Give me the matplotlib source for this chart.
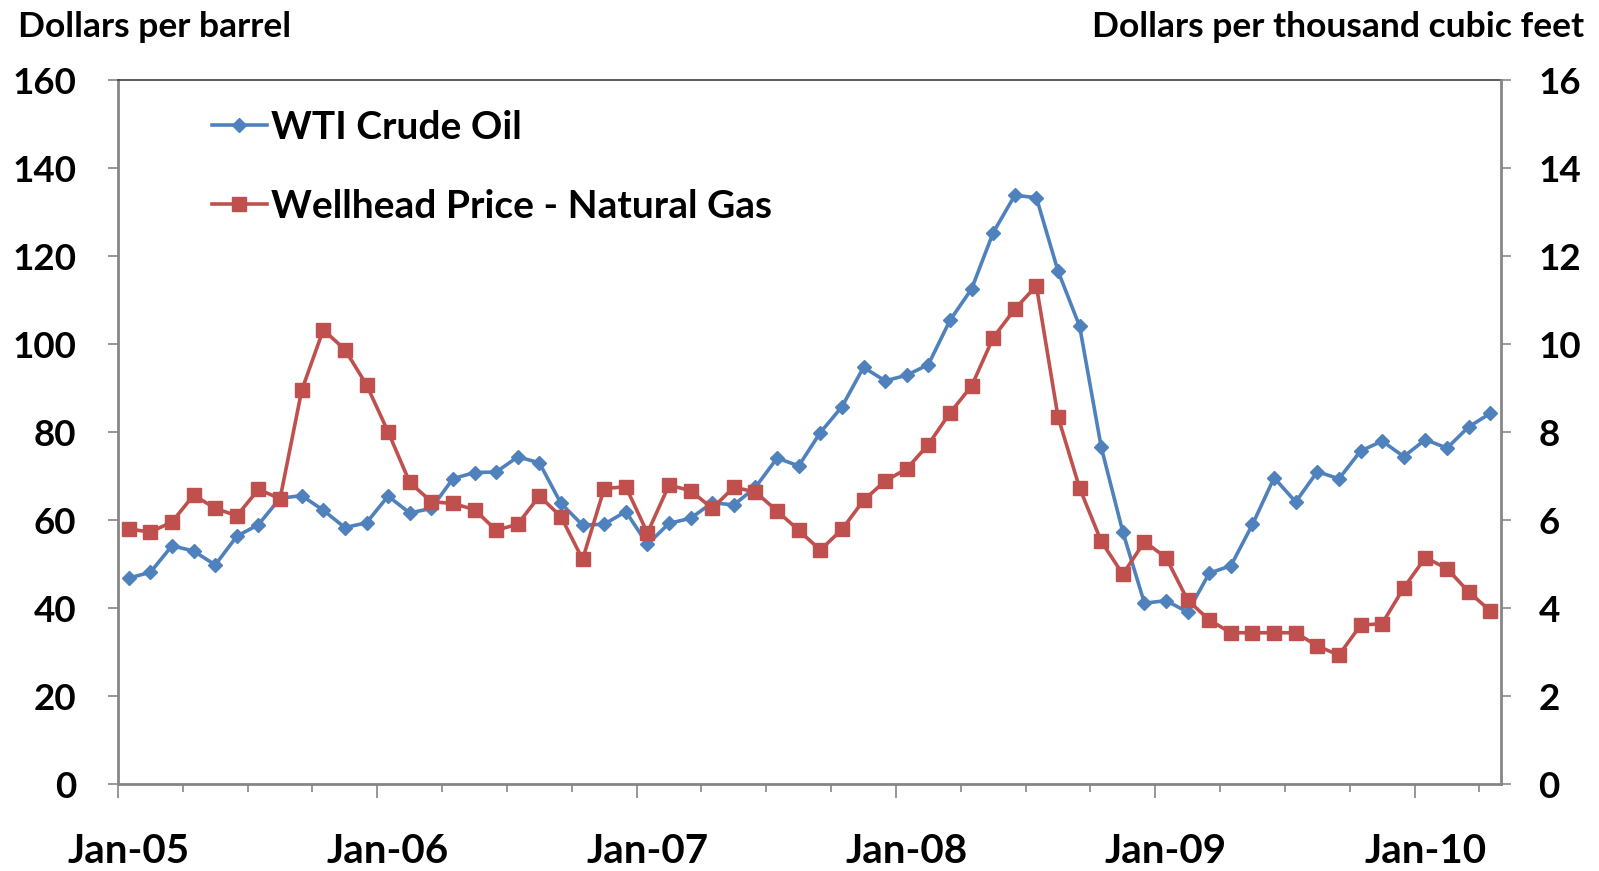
import matplotlib
matplotlib.use('Agg')
import matplotlib.pyplot as plt
import numpy as np

plt.rcParams['font.family'] = ['Lato', 'DejaVu Sans']
plt.rcParams['font.weight'] = 'bold'

# ---------------- data ----------------
years = ['05', '06', '07', '08', '09', '10']
month_names = ['Jan', 'Feb', 'Mar', 'Apr', 'May', 'Jun',
               'Jul', 'Aug', 'Sep', 'Oct', 'Nov', 'Dec']
months = [f'{m}-{y}' for y in years for m in month_names][:64]
year_labels = ['Jan-05', 'Jan-06', 'Jan-07', 'Jan-08', 'Jan-09', 'Jan-10']

wti = [46.84, 48.15, 54.19, 52.98, 49.83, 56.35, 59.00, 64.99, 65.59, 62.26, 58.32, 59.41,
       65.49, 61.63, 62.69, 69.44, 70.84, 70.95, 74.41, 73.04, 63.80, 58.89, 59.08, 61.96,
       54.51, 59.28, 60.44, 63.98, 63.46, 67.49, 74.12, 72.36, 79.92, 85.80, 94.77, 91.69,
       92.97, 95.39, 105.45, 112.58, 125.40, 133.88, 133.37, 116.67, 104.11, 76.61, 57.31, 41.12,
       41.71, 39.09, 47.94, 49.65, 59.03, 69.64, 64.15, 71.05, 69.41, 75.72, 77.99, 74.47,
       78.33, 76.39, 81.20, 84.29]

gas = [5.80, 5.73, 5.96, 6.57, 6.27, 6.10, 6.70, 6.49, 8.95, 10.33, 9.88, 9.08,
       8.01, 6.86, 6.42, 6.38, 6.24, 5.77, 5.91, 6.55, 6.08, 5.11, 6.72, 6.76,
       5.71, 6.80, 6.67, 6.27, 6.75, 6.64, 6.21, 5.77, 5.32, 5.79, 6.45, 6.89,
       7.17, 7.72, 8.44, 9.05, 10.15, 10.80, 11.33, 8.35, 6.73, 5.52, 4.77, 5.51,
       5.15, 4.18, 3.73, 3.44, 3.44, 3.44, 3.44, 3.14, 2.93, 3.61, 3.65, 4.46,
       5.15, 4.90, 4.37, 3.94]

left_ticks = [0, 20, 40, 60, 80, 100, 120, 140, 160]
right_ticks = [0, 2, 4, 6, 8, 10, 12, 14, 16]

blue = '#4F81BD'
red = '#C0504D'
axis_gray = '#868686'

# ---------------- figure ----------------
W, H = 1599, 871
fig = plt.figure(figsize=(W / 100, H / 100), dpi=100)
left, right, top, bottom = 118, 1501, 80.5, 784
ax = fig.add_axes([left / W, 1 - bottom / H, (right - left) / W, (bottom - top) / H])
ax2 = ax.twinx()

x = np.arange(len(months))
l1, = ax.plot(x, wti, color=blue, lw=2.6, marker='D', ms=7.5, mec=blue, mfc=blue,
              label='WTI Crude Oil', zorder=3)
l2, = ax2.plot(x, gas, color=red, lw=2.6, marker='s', ms=10, mec=red, mfc=red,
               label='Wellhead Price - Natural Gas', zorder=3)

ax.set_xlim(-0.5, len(months) - 0.5)
ax.set_ylim(0, 160)
ax2.set_ylim(0, 16)

# y axes
ax.set_yticks(left_ticks)
ax.set_yticklabels([str(v) for v in left_ticks])
ax2.set_yticks(right_ticks)
ax2.set_yticklabels([str(v) for v in right_ticks])
ax.tick_params(axis='y', direction='out', length=7, width=1.2, color=axis_gray,
               labelsize=26.5, pad=23)
ax2.tick_params(axis='y', direction='out', length=7, width=1.2, color=axis_gray,
                labelsize=26.5, pad=20)
for lab in ax.get_yticklabels() + ax2.get_yticklabels():
    lab.set_fontweight('bold')

# x axis: ticks at category boundaries every 3 months, labels at January centers
major_pos = np.arange(-0.5, len(months) - 0.5, 3)
ax.set_xticks(major_pos)
ax.set_xticklabels([])
ax.tick_params(axis='x', which='major', direction='out', length=6, width=1.2, color=axis_gray)
for t, pos in zip(ax.xaxis.get_major_ticks(), major_pos):
    if (pos + 0.5) % 12 == 0:
        t.tick1line.set_markersize(10)
ax.set_xticks([months.index(lbl) for lbl in year_labels], minor=True)
ax.set_xticklabels(year_labels, minor=True)
ax.tick_params(axis='x', which='minor', length=0, labelsize=29, pad=35)
for lab in ax.get_xticklabels(minor=True):
    lab.set_fontweight('bold')

# spines
for s in ['left', 'bottom']:
    ax.spines[s].set_color(axis_gray)
    ax.spines[s].set_linewidth(2)
ax.spines['top'].set_color('#404040')
ax.spines['top'].set_linewidth(1.2)
ax.spines['right'].set_visible(False)
for s in ['left', 'bottom', 'top']:
    ax2.spines[s].set_visible(False)
ax2.spines['right'].set_color(axis_gray)
ax2.spines['right'].set_linewidth(2)

# axis titles
fig.text(18 / W, 1 - 27 / H, 'Dollars per barrel', ha='left', va='center',
         fontsize=25.5, fontweight='bold')
fig.text(1584 / W, 1 - 27 / H, 'Dollars per thousand cubic feet', ha='right', va='center',
         fontsize=25.5, fontweight='bold')

# legend
leg = ax2.legend(handles=[l1, l2], loc='upper left',
                 bbox_to_anchor=(212 / W, 1 - 110 / H), bbox_transform=fig.transFigure,
                 frameon=False, fontsize=28, handlelength=1.41, handletextpad=0.1,
                 labelspacing=1.13, borderpad=0, borderaxespad=0)
for t in leg.get_texts():
    t.set_fontweight('bold')

fig.savefig('out.png', dpi=100)
